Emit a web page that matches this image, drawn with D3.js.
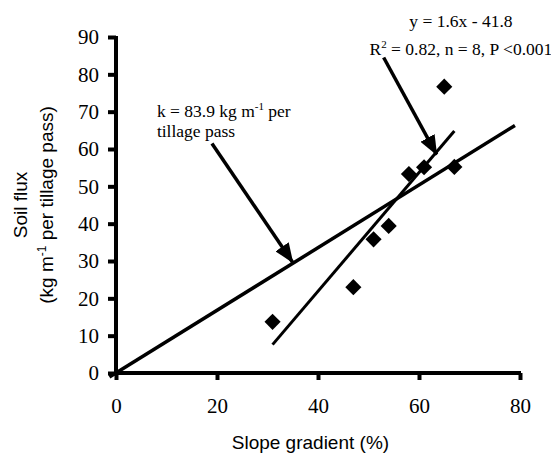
<!DOCTYPE html>
<html>
<head>
<meta charset="utf-8">
<script src="https://cdn.jsdelivr.net/npm/d3@7"></script>
<style>
  body { margin: 0; background: #fff; }
</style>
</head>
<body>
<div id="wrapper"></div>
<script>
// data
const slope = [31, 47, 51, 54, 58, 61, 65, 67]
const flux = [13.7, 23, 35.8, 39.4, 53.3, 55.1, 76.7, 55.2]
const xTicks = [0, 20, 40, 60, 80]
const yTicks = [0, 10, 20, 30, 40, 50, 60, 70, 80, 90]
const fitLine = [[31, 7.6], [67, 64.8]]      // y = 1.6x - 41.8
const kLine = [[-1.3, -1.1], [79, 66.3]]      // k = 83.9
const arrowFrom = [[19, 61.5], [53, 84.5]]
const arrowTo = [[35, 29.6], [63.5, 58.5]]

function drawChart() {
  const dimensions = {
    width: 551,
    height: 454,
    margins: { top: 37, right: 31, bottom: 81, left: 116 },
  }
  dimensions.boundedWidth = dimensions.width
    - dimensions.margins.left
    - dimensions.margins.right
  dimensions.boundedHeight = dimensions.height
    - dimensions.margins.top
    - dimensions.margins.bottom

  const wrapper = d3.select("#wrapper")
    .append("svg")
      .attr("width", dimensions.width)
      .attr("height", dimensions.height)

  wrapper.append("defs").append("marker")
      .attr("id", "head")
      .attr("markerUnits", "userSpaceOnUse")
      .attr("viewBox", "0 0 20 16")
      .attr("markerWidth", 20)
      .attr("markerHeight", 16)
      .attr("refX", 19)
      .attr("refY", 8)
      .attr("orient", "auto")
    .append("path")
      .attr("d", "M0,0 L20,8 L0,16 Z")
      .attr("fill", "#000")

  const bounds = wrapper.append("g")
    .attr("transform", `translate(${dimensions.margins.left},${dimensions.margins.top})`)

  const xScale = d3.scaleLinear()
    .domain([0, 80])
    .range([0, dimensions.boundedWidth])

  const yScale = d3.scaleLinear()
    .domain([0, 90])
    .range([dimensions.boundedHeight, 0])

  // axes
  const yAxis = bounds.append("g")
    .call(d3.axisLeft(yScale).tickValues(yTicks).tickSize(8).tickPadding(9).tickFormat(d3.format("d")))
  const xAxis = bounds.append("g")
    .attr("transform", `translate(0,${dimensions.boundedHeight})`)
    .call(d3.axisBottom(xScale).tickValues(xTicks).tickSize(7).tickPadding(18).tickFormat(d3.format("d")))

  bounds.selectAll(".domain").remove()
  bounds.append("line")
    .attr("x1", 0).attr("x2", 0)
    .attr("y1", yScale(90) - 1).attr("y2", yScale(0) + 2)
    .attr("stroke", "#000").attr("stroke-width", 4)
  bounds.append("line")
    .attr("x1", xScale(0) - 2).attr("x2", xScale(80) + 1)
    .attr("y1", yScale(0)).attr("y2", yScale(0))
    .attr("stroke", "#000").attr("stroke-width", 4)

  bounds.selectAll(".tick line")
    .attr("stroke", "#000").attr("stroke-width", 4)
  bounds.selectAll(".tick text")
    .attr("font-family", "Liberation Serif, Times New Roman, serif")
    .attr("font-size", 21)
    .attr("fill", "#000")

  // lines
  const lineGenerator = d3.line()
    .x(d => xScale(d[0]))
    .y(d => yScale(d[1]))

  bounds.append("path")
    .attr("d", lineGenerator(kLine))
    .attr("fill", "none")
    .attr("stroke", "#000")
    .attr("stroke-width", 3.5)

  bounds.append("path")
    .attr("d", lineGenerator(fitLine))
    .attr("fill", "none")
    .attr("stroke", "#000")
    .attr("stroke-width", 3)

  // points
  const diamond = d3.symbol().type(d3.symbolSquare).size(130)
  bounds.selectAll(".pt")
    .data(slope)
    .join("path")
      .attr("class", "pt")
      .attr("d", diamond)
      .attr("transform", (d, i) => `translate(${xScale(d)},${yScale(flux[i])}) rotate(45)`)
      .attr("fill", "#000")

  // arrows
  bounds.selectAll(".arrow")
    .data(arrowFrom)
    .join("line")
      .attr("class", "arrow")
      .attr("x1", d => xScale(d[0]))
      .attr("y1", d => yScale(d[1]))
      .attr("x2", (d, i) => xScale(arrowTo[i][0]))
      .attr("y2", (d, i) => yScale(arrowTo[i][1]))
      .attr("stroke", "#000")
      .attr("stroke-width", 3.5)
      .attr("marker-end", "url(#head)")

  // annotations
  const serif = "Liberation Serif, Times New Roman, serif"
  const sans = "Liberation Sans, Arial, sans-serif"

  const kText = bounds.append("text")
    .attr("font-family", serif).attr("font-size", 17.5)
    .attr("x", xScale(8.1)).attr("y", yScale(68.6))
  kText.append("tspan").text("k = 83.9 kg m")
  kText.append("tspan").attr("dy", -7).attr("font-size", 11).text("-1")
  kText.append("tspan").attr("dy", 7).text(" per")
  bounds.append("text")
    .attr("font-family", serif).attr("font-size", 17.5)
    .attr("x", xScale(8.1)).attr("y", yScale(63.3))
    .text("tillage pass")

  bounds.append("text")
    .attr("font-family", serif).attr("font-size", 17.5)
    .attr("text-anchor", "middle")
    .attr("x", xScale(68.3)).attr("y", yScale(92.8))
    .text("y = 1.6x - 41.8")
  const rText = bounds.append("text")
    .attr("font-family", serif).attr("font-size", 17.5)
    .attr("text-anchor", "middle")
    .attr("x", xScale(68.3)).attr("y", yScale(85.3))
  rText.append("tspan").text("R")
  rText.append("tspan").attr("dy", -7).attr("font-size", 11).text("2")
  rText.append("tspan").attr("dy", 7).text(" = 0.82, n = 8, P <0.001")

  // axis titles
  wrapper.append("text")
    .attr("font-family", sans).attr("font-size", 19)
    .attr("text-anchor", "middle")
    .attr("x", dimensions.margins.left + xScale(38.5))
    .attr("y", 449)
    .text("Slope gradient (%)")

  const yTitle = wrapper.append("g")
    .attr("transform", `translate(0,${dimensions.margins.top + yScale(45)}) rotate(-90)`)
    .attr("font-family", sans).attr("font-size", 19)
    .attr("text-anchor", "middle")
  yTitle.append("text").attr("y", 27).text("Soil flux")
  const yLine2 = yTitle.append("text").attr("y", 53)
  yLine2.append("tspan").text("(kg m")
  yLine2.append("tspan").attr("dy", -7).attr("font-size", 12).text("-1")
  yLine2.append("tspan").attr("dy", 7).text("  per tillage pass)")
}

drawChart()
</script>
</body>
</html>
